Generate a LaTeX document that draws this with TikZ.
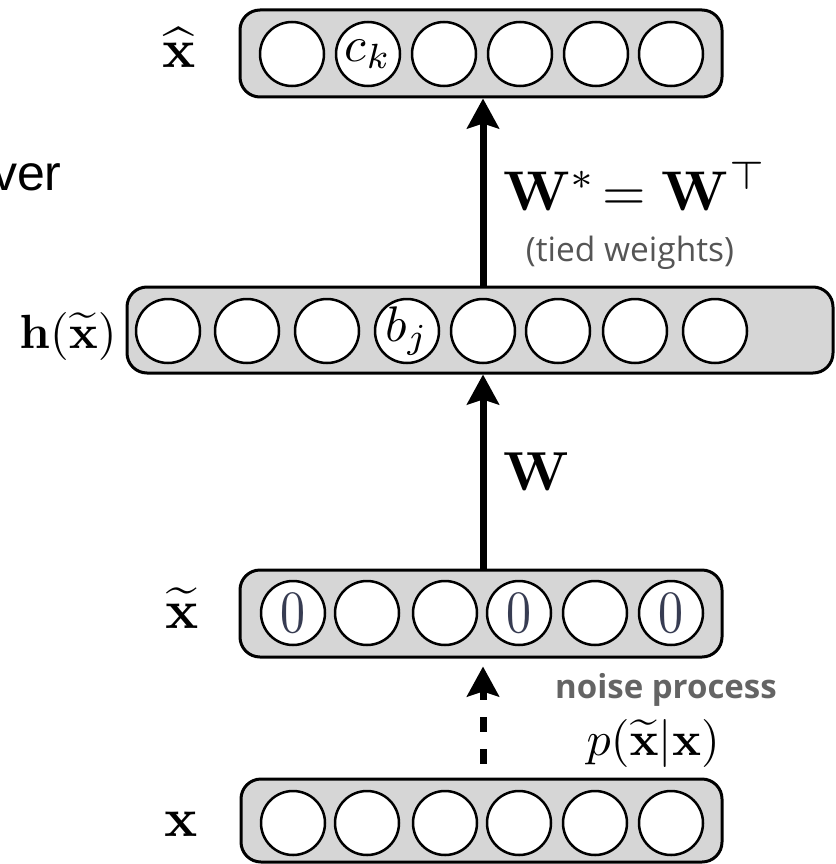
\RequirePackage{fix-cm}
\documentclass[tikz,border=0pt]{standalone}
\usepackage{exscale}
\usepackage[no-math]{fontspec}
\newfontfamily\humsans{Open Sans}
\newfontfamily\arialfont{Liberation Sans}
\usetikzlibrary{arrows.meta}
\definecolor{boxgray}{RGB}{214,214,214}
\definecolor{tiedgray}{RGB}{85,85,85}
\definecolor{noisegray}{RGB}{100,100,100}
\definecolor{zerogray}{RGB}{55,60,82}
\begin{document}
\begin{tikzpicture}[x=1pt,y=-1pt,
  layerbox/.style={draw, line width=3pt, fill=boxgray, rounded corners=20pt, inner sep=0pt},
  unit/.style={circle, draw, line width=2.5pt, fill=white, minimum size=64pt, inner sep=0pt},
  conn/.style={line width=7pt, -{Stealth[length=30pt,width=32pt,inset=5pt]}},
  mathlabel/.style={font=\normalsize, inner sep=0pt},
  zero/.style={font=\normalsize, text=zerogray, inner sep=0pt}]
\useasboundingbox (0,0) rectangle (835,864);

% reconstruction layer
\node[layerbox, minimum width=482pt, minimum height=87pt] (xhat) at (481,53.5) {};
\foreach \i/\xx in {1/292,2/368,3/444,4/520,5/596,6/671}
  \node[unit] (o\i) at (\xx,54) {};
\node[mathlabel] (ck) at (o2) {\scalebox{5}{$c_k$}};

% hidden layer
\node[layerbox, minimum width=706pt, minimum height=86pt] (h) at (480,330) {};
\foreach \i/\xx in {1/168,2/247,3/327,4/407,5/483,6/558,7/635,8/715}
  \node[unit] (h\i) at (\xx,331) {};
\node[mathlabel] (bj) at (h4) {\scalebox{5}{$b_j$}};

% corrupted input
\node[layerbox, minimum width=482pt, minimum height=87pt] (xt) at (481,613.5) {};
\foreach \i/\xx in {1/293,2/367,3/445,4/519,5/595,6/671}
  \node[unit] (t\i) at (\xx,613) {};
\foreach \i in {1,4,6}
  \node[zero] (z\i) at (t\i) {\scalebox{5}[6]{0}};

% clean input
\node[layerbox, minimum width=481pt, minimum height=83pt] (x) at (481.5,820.5) {};
\foreach \i/\xx in {1/293,2/367,3/445,4/519,5/595,6/671}
  \node[unit] (i\i) at (\xx,823) {};

% connections
\draw[conn] (h.north -| h5) -- (xhat.south -| h5);
\draw[conn] (xt.north -| h5) -- (h.south -| h5);
\draw[conn, dash pattern=on 15pt off 17pt, shorten <=14pt, shorten >=8pt]
  (x.north -| h5) -- (xt.south -| h5);

% layer labels
\node[mathlabel, anchor=base] (lxhat) at (179,68) {\scalebox{5.5}{$\widehat{\mathbf{x}}$}};
\node[mathlabel, anchor=base] (lh) at (68,348) {\scalebox{4.8}{$\mathbf{h}(\widetilde{\mathbf{x}})$}};
\node[mathlabel, anchor=base] (lxt) at (182,628) {\scalebox{5.5}{$\widetilde{\mathbf{x}}$}};
\node[mathlabel, anchor=base] (lx) at (181,836) {\scalebox{5.5}{$\mathbf{x}$}};

% weight and noise labels
\node[mathlabel, anchor=base west] (lwt) at (503,210) {\scalebox{5.6}{$\mathbf{W}^{*}\!=\mathbf{W}^{\top}$}};
\node[font=\humsans\fontsize{33.5}{36}\selectfont, text=tiedgray, anchor=base, inner sep=0pt] (tied) at (630,261) {(tied weights)};
\node[mathlabel, anchor=base west] (lw) at (503,490) {\scalebox{5.5}{$\mathbf{W}$}};
\node[font=\humsans\bfseries\fontsize{33}{36}\selectfont, text=noisegray, anchor=base west, inner sep=0pt] (noise) at (555,698) {noise process};
\node[mathlabel, anchor=base east] (pnoise) at (720,755) {\scalebox{4.8}{$p(\widetilde{\mathbf{x}}|\mathbf{x})$}};

\node[font=\arialfont\fontsize{50}{54}\selectfont, anchor=base west, inner sep=0pt] (ver) at (-8,190) {ver};
\end{tikzpicture}
\end{document}
